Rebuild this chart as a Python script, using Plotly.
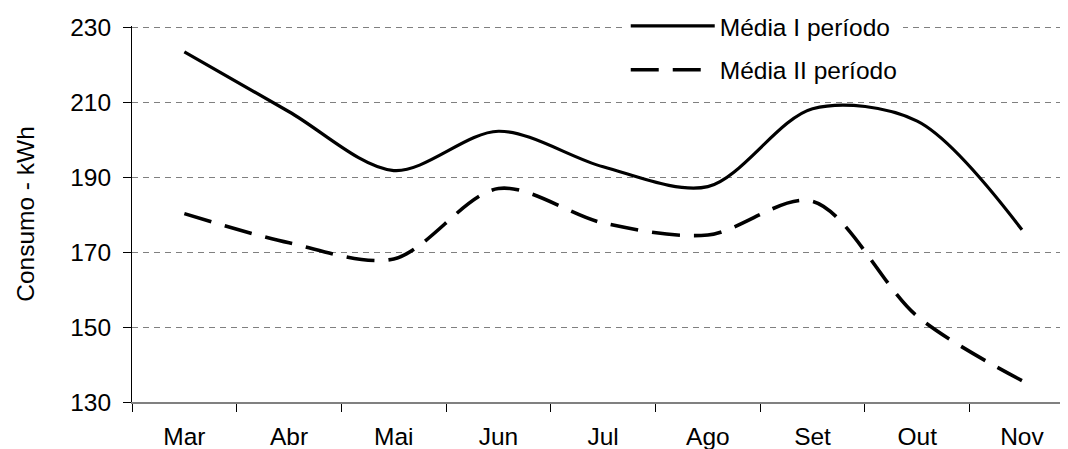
import plotly.graph_objects as go

meses = ['Mar', 'Abr', 'Mai', 'Jun', 'Jul', 'Ago', 'Set', 'Out', 'Nov']
media_1 = [223.5, 207.5, 191.8, 202.3, 192.8, 187.5, 208.3, 205.0, 176.0]
media_2 = [180.3, 172.5, 168.2, 187.0, 177.8, 174.6, 183.6, 152.9, 135.7]
y_ticks = [130, 150, 170, 190, 210, 230]

fnt = dict(family='Liberation Sans, Arial, sans-serif', size=24.5, color='black')

fig = go.Figure()
fig.add_trace(go.Scatter(x=meses, y=media_1, name='Média I período', mode='lines',
                         line=dict(color='black', width=3.2, shape='spline', smoothing=0.9),
                         legendgroup='a'))
fig.add_trace(go.Scatter(x=meses, y=media_2, name='Média II período', mode='lines',
                         line=dict(color='black', width=3.6, shape='spline', smoothing=0.9,
                                   dash='28px,14px'),
                         legendgroup='b'))

# page body has an 8px margin, so the figure is 8px smaller than the window
fig.update_layout(
    width=1060, height=441,
    margin=dict(l=124, r=0, t=17.5, b=47, autoexpand=False),
    paper_bgcolor='white', plot_bgcolor='white',
    font=fnt,
    showlegend=True,
    legend=dict(x=0.5275, y=1.0598, xanchor='left', yanchor='top',
                bgcolor='white', font=fnt, itemwidth=84,
                tracegroupgap=9, traceorder='grouped'),
)
fig.update_xaxes(type='category', range=[-0.5, 8.44], tickson='boundaries',
                 ticks='outside', ticklen=8, tickcolor='black', ticklabelstandoff=12,
                 showline=True, linecolor='#808080', linewidth=2, automargin=False,
                 showgrid=False, tickfont=fnt)
fig.update_yaxes(range=[130, 230.4], tickvals=y_ticks, ticks='outside', ticklen=8,
                 tickcolor='black', showline=True, linecolor='black', linewidth=1,
                 ticklabelstandoff=7, automargin=False,
                 showgrid=True, gridcolor='#808080', gridwidth=1, griddash='6px,5px',
                 zeroline=False, tickfont=fnt,
                 title=dict(text='Consumo - kWh', font=fnt, standoff=28))

fig.write_html('out.html')
